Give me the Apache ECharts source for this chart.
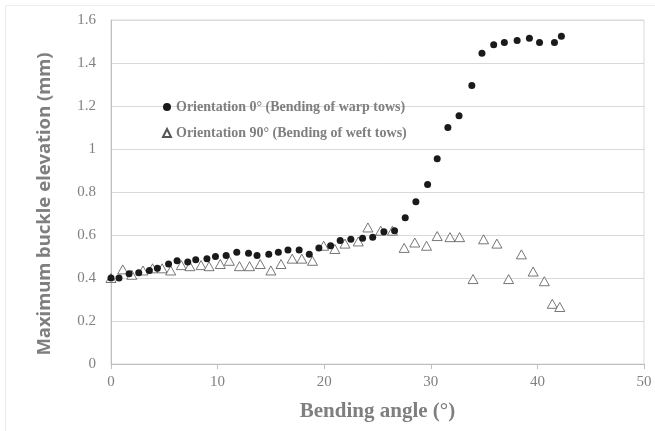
<!DOCTYPE html>
<html>
<head>
  <meta charset="utf-8">
  <title>buckle elevation</title>
  <script src="https://cdn.jsdelivr.net/npm/echarts@6/dist/echarts.min.js"></script>
  <style>
    html, body { margin: 0; padding: 0; background: #fff; }
    #main { width: 655px; height: 431px; }
  </style>
</head>
<body>
  <div id="main"></div>
  <script>
    // bending angle (deg) / max buckle elevation (mm)
    var warpAngle = [0, 0.75, 1.7, 2.6, 3.6, 4.35, 5.4, 6.2, 7.2, 7.95, 9.0, 9.8, 10.8, 11.8, 12.9, 13.7,
      14.8, 15.7, 16.6, 17.65, 18.6, 19.5, 20.6, 21.5, 22.5, 23.6, 24.55, 25.6, 26.6, 27.6, 28.6, 29.7,
      30.6, 31.6, 32.65, 33.85, 34.8, 35.9, 36.9, 38.1, 39.25, 40.2, 41.6, 42.25];
    var warpElev = [0.40, 0.40, 0.42, 0.425, 0.435, 0.445, 0.465, 0.48, 0.475, 0.485, 0.49, 0.50, 0.505, 0.52, 0.515, 0.505,
      0.51, 0.52, 0.53, 0.53, 0.51, 0.54, 0.55, 0.575, 0.58, 0.585, 0.59, 0.615, 0.62, 0.68, 0.755, 0.835,
      0.955, 1.10, 1.155, 1.295, 1.445, 1.485, 1.495, 1.505, 1.515, 1.495, 1.495, 1.525];

    var weftAngle = [0, 1.1, 1.95, 3.0, 3.9, 4.8, 5.6, 6.6, 7.4, 8.45, 9.2, 10.25, 11.1, 12.05, 13.0, 14.0,
      15.0, 15.95, 17.0, 17.9, 18.9, 19.95, 21.0, 21.95, 23.2, 24.1, 25.3, 26.4, 27.5, 28.5, 29.6,
      30.6, 31.8, 32.7, 33.96, 34.95, 36.2, 37.3, 38.5, 39.6, 40.65, 41.4, 42.1];
    var weftElev = [0.40, 0.44, 0.415, 0.435, 0.445, 0.445, 0.435, 0.46, 0.455, 0.46, 0.455, 0.465, 0.48, 0.455, 0.455, 0.465,
      0.435, 0.465, 0.49, 0.49, 0.48, 0.55, 0.535, 0.56, 0.57, 0.635, 0.62, 0.62, 0.54, 0.565, 0.55,
      0.595, 0.59, 0.59, 0.395, 0.58, 0.56, 0.395, 0.51, 0.43, 0.385, 0.28, 0.265];

    var xTicks = [0, 10, 20, 30, 40, 50];
    var yTicks = [0, 0.2, 0.4, 0.6, 0.8, 1, 1.2, 1.4, 1.6];

    function pairs(xs, ys) {
      var out = [];
      for (var i = 0; i < xs.length; i++) out.push([xs[i], ys[i]]);
      return out;
    }

    var chart = echarts.init(document.getElementById('main'));
    var serif = '"Liberation Serif", "DejaVu Serif", serif';

    var option = {
      animation: false,
      backgroundColor: '#fff',
      grid: {
        left: 111, right: 11, top: 20, bottom: 67,
        show: true, borderColor: '#d9d9d9', borderWidth: 1
      },
      graphic: [{
        type: 'rect',
        shape: { x: 5.5, y: 5.5, width: 700, height: 500 },
        style: { fill: null, stroke: '#ececec', lineWidth: 1 },
        silent: true
      }],
      legend: {
        orient: 'vertical',
        left: 157, top: 95,
        itemGap: 12,
        itemWidth: 8, itemHeight: 8,
        textStyle: { fontFamily: serif, fontWeight: 'bold', fontSize: 14, color: '#7f7f7f' },
        data: ['Orientation 0° (Bending of warp tows)', 'Orientation 90° (Bending of weft tows)']
      },
      xAxis: {
        type: 'value',
        min: xTicks[0], max: xTicks[xTicks.length - 1], interval: 10,
        name: 'Bending angle (°)',
        nameLocation: 'middle', nameGap: 37,
        nameTextStyle: { fontFamily: serif, fontWeight: 'bold', fontSize: 21, color: '#7f7f7f' },
        axisLine: { lineStyle: { color: '#bfbfbf' } },
        axisTick: { show: true, length: 5, lineStyle: { color: '#bfbfbf' } },
        axisLabel: { fontFamily: serif, fontSize: 15, color: '#808080', margin: 11 },
        splitLine: { show: false }
      },
      yAxis: {
        type: 'value',
        min: yTicks[0], max: yTicks[yTicks.length - 1], interval: 0.2,
        name: 'Maximum buckle elevation (mm)',
        nameLocation: 'middle', nameGap: 57,
        nameTextStyle: {
          fontFamily: '"Noto Sans", "DejaVu Sans", sans-serif', fontWeight: 'bold', fontSize: 18.5, color: '#7f7f7f',
          padding: [0, 24, 0, 0]
        },
        axisLine: { show: true, lineStyle: { color: '#bfbfbf' } },
        axisTick: { show: false },
        axisLabel: {
          fontFamily: serif, fontSize: 15, color: '#808080', margin: 15,
          formatter: function (v) { return String(Math.round(v * 10) / 10); }
        },
        splitLine: { lineStyle: { color: '#d9d9d9' } }
      },
      series: [{
        name: 'Orientation 90° (Bending of weft tows)',
        type: 'scatter',
        symbol: 'triangle',
        symbolSize: [10, 9],
        itemStyle: { color: '#fff', borderColor: '#555', borderWidth: 0.8, opacity: 1 },
        data: pairs(weftAngle, weftElev)
      }, {
        name: 'Orientation 0° (Bending of warp tows)',
        type: 'scatter',
        symbol: 'circle',
        symbolSize: 7,
        itemStyle: { color: '#1a1a1a', opacity: 1 },
        data: pairs(warpAngle, warpElev)
      }]
    };

    chart.setOption(option);
  </script>
</body>
</html>
